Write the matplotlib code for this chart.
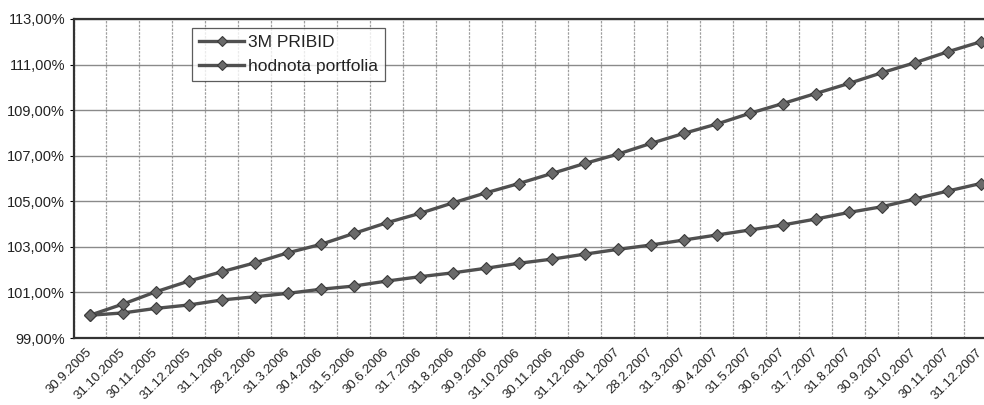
import matplotlib
matplotlib.use("Agg")
import matplotlib.pyplot as plt
from matplotlib.ticker import FuncFormatter, FixedLocator
from matplotlib.transforms import ScaledTranslation

dates = ["30.9.2005", "31.10.2005", "30.11.2005", "31.12.2005", "31.1.2006",
         "28.2.2006", "31.3.2006", "30.4.2006", "31.5.2006", "30.6.2006",
         "31.7.2006", "31.8.2006", "30.9.2006", "31.10.2006", "30.11.2006",
         "31.12.2006", "31.1.2007", "28.2.2007", "31.3.2007", "30.4.2007",
         "31.5.2007", "30.6.2007", "31.7.2007", "31.8.2007", "30.9.2007",
         "31.10.2007", "30.11.2007", "31.12.2007"]

pribid = [100.00, 100.10, 100.30, 100.45, 100.67, 100.81, 100.96, 101.14,
          101.28, 101.50, 101.69, 101.86, 102.06, 102.28, 102.46, 102.68,
          102.89, 103.08, 103.30, 103.52, 103.74, 103.96, 104.22, 104.51,
          104.76, 105.10, 105.45, 105.78]

portfolio = [100.00, 100.49, 101.03, 101.50, 101.91, 102.30, 102.74, 103.11,
             103.59, 104.06, 104.47, 104.93, 105.37, 105.78, 106.22, 106.66,
             107.07, 107.54, 107.98, 108.39, 108.86, 109.29, 109.73, 110.17,
             110.64, 111.08, 111.56, 112.00]

y_ticks = [99, 101, 103, 105, 107, 109, 111, 113]

plt.rcParams['font.family'] = ['Liberation Sans', 'DejaVu Sans']

fig = plt.figure(figsize=(9.84, 4.05), dpi=100)
ax = fig.add_axes([73.5 / 984, 67 / 405, 1 - 73.5 / 984, (338 - 19) / 405])

x = list(range(len(dates)))
line_color = '#505050'
marker_color = '#6a6a6a'
for vals, lab in [(pribid, '3M PRIBID'), (portfolio, 'hodnota portfolia')]:
    ax.plot(x, vals, color=line_color, lw=2.4, marker='D', markersize=6,
            markerfacecolor=marker_color, markeredgecolor='#3a3a3a', markeredgewidth=0.8,
            label=lab, zorder=3)

ax.set_ylim(99, 113)
ax.set_xlim(-0.5, 27.1)
ax.yaxis.set_major_locator(FixedLocator(y_ticks))
ax.yaxis.set_major_formatter(FuncFormatter(lambda v, p: f"{v:.2f}".replace('.', ',') + '%'))

ax.set_xticks(x)
ax.set_xticklabels(dates, rotation=45, ha='right', va='center', rotation_mode='anchor',
                   fontsize=9.5, color='#222222')
offset = ScaledTranslation(-0.07, -0.05, fig.dpi_scale_trans)
for lbl in ax.get_xticklabels():
    lbl.set_transform(lbl.get_transform() + offset)
ax.xaxis.set_minor_locator(FixedLocator([i + 0.5 for i in range(-1, len(dates))]))
ax.tick_params(axis='x', which='major', length=0, pad=9)
ax.tick_params(axis='x', which='minor', length=0)
ax.tick_params(axis='y', which='major', length=3, labelsize=10.5, labelcolor='#222222', pad=3)

ax.grid(axis='y', which='major', color='#8a8a8a', lw=1.0)
ax.grid(axis='x', which='minor', color='#a0a0a0', lw=0.9, ls=(0, (2, 1)))
ax.set_axisbelow(True)

for s in ['top', 'left', 'bottom']:
    ax.spines[s].set_color('#333333')
    ax.spines[s].set_linewidth(1.6)
ax.spines['right'].set_visible(False)

leg = ax.legend(loc='upper left', bbox_to_anchor=((192 - 73.5) / (984 - 73.5), (338 - 28) / 319),
                frameon=True, fancybox=False, fontsize=12.5, handlelength=2.6,
                borderpad=0.4, labelspacing=0.5, handletextpad=0.2, borderaxespad=0,
                markerscale=0.8)
leg.get_frame().set_edgecolor('#333333')
leg.get_frame().set_linewidth(0.9)
leg.get_frame().set_facecolor('white')
for t in leg.get_texts():
    t.set_color('#222222')

fig.savefig('out.png', dpi=100)
